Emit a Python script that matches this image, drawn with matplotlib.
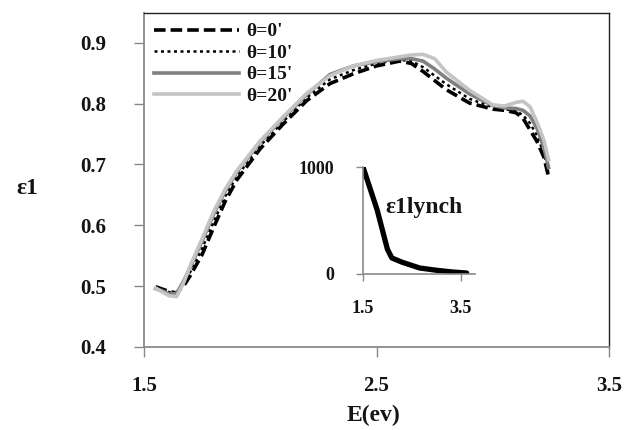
import matplotlib
matplotlib.use("Agg")
import matplotlib.pyplot as plt

# ---- data ----
E = [1.55, 1.58, 1.61, 1.64, 1.67, 1.70, 1.75, 1.80, 1.85, 1.90, 2.00, 2.10, 2.20, 2.30,
     2.40, 2.50, 2.60, 2.65, 2.70, 2.75, 2.80, 2.90, 3.00, 3.05, 3.10, 3.13, 3.16, 3.19,
     3.22, 3.24]
eps_0 = [0.499, 0.495, 0.491, 0.489, 0.500, 0.518, 0.552, 0.597, 0.640, 0.675, 0.726, 0.767,
         0.805, 0.833, 0.849, 0.862, 0.870, 0.866, 0.853, 0.838, 0.823, 0.801, 0.791, 0.789,
         0.785, 0.776, 0.757, 0.738, 0.712, 0.680]
eps_10 = [0.498, 0.494, 0.490, 0.489, 0.503, 0.524, 0.562, 0.606, 0.648, 0.681, 0.731, 0.771,
          0.810, 0.840, 0.855, 0.866, 0.872, 0.870, 0.860, 0.846, 0.832, 0.808, 0.794, 0.791,
          0.788, 0.781, 0.768, 0.748, 0.718, 0.685]
eps_15 = [0.496, 0.492, 0.487, 0.488, 0.508, 0.532, 0.574, 0.619, 0.657, 0.688, 0.737, 0.777,
          0.815, 0.848, 0.862, 0.869, 0.874, 0.874, 0.870, 0.857, 0.842, 0.816, 0.797, 0.793,
          0.792, 0.789, 0.780, 0.760, 0.728, 0.695]
eps_20 = [0.497, 0.490, 0.484, 0.483, 0.505, 0.535, 0.578, 0.623, 0.660, 0.690, 0.739, 0.779,
          0.817, 0.846, 0.862, 0.871, 0.877, 0.880, 0.881, 0.874, 0.852, 0.822, 0.798, 0.796,
          0.802, 0.804, 0.795, 0.770, 0.740, 0.708]

E_lynch = [1.5, 1.79, 2.00, 2.09, 2.30, 2.66, 3.00, 3.30, 3.62]
eps_lynch = [1000, 598, 230, 150, 110, 56, 35, 20, 9]

labels = ["θ=0'", "θ=10'", "θ=15'", "θ=20'"]
xticks = [1.5, 2.5, 3.5]
yticks = [0.4, 0.5, 0.6, 0.7, 0.8, 0.9]

W, H = 631, 430
fig = plt.figure(figsize=(W / 100, H / 100), dpi=100)
serif = ["Liberation Serif", "DejaVu Serif"]
tc = "#141414"

ax = fig.add_axes([144 / W, 1 - 347 / H, (609 - 144) / W, (347 - 13) / H])
ax.plot(E, eps_0, color="black", lw=2.6, ls=(0, (3.2, 1.4)), label=labels[0])
ax.plot(E, eps_10, color="black", lw=1.8, ls=(0, (1.2, 1.4)), label=labels[1])
ax.plot(E, eps_15, color="#808080", lw=2.6, ls="-", label=labels[2])
ax.plot(E, eps_20, color="#c4c4c4", lw=2.6, ls="-", label=labels[3])
ax.set_xlim(1.5, 3.5)
ax.set_ylim(0.4, 0.949)
ax.set_xticks(xticks)
ax.set_yticks(yticks)
ax.set_xticklabels([f"{v:.1f}" for v in xticks], fontfamily=serif, fontweight="bold",
                   fontsize=15, color=tc)
ax.set_yticklabels([f"{v:.1f}" for v in yticks], fontfamily=serif, fontweight="bold",
                   fontsize=15, color=tc)
ax.tick_params(axis="both", direction="out", length=7, width=1, color="#888888")
ax.tick_params(axis="x", pad=14)
ax.tick_params(axis="y", pad=20)
for s in ["left", "bottom"]:
    ax.spines[s].set_color("#8a8a8a")
    ax.spines[s].set_linewidth(1.3)
for s in ["top", "right"]:
    ax.spines[s].set_color("#222222")
    ax.spines[s].set_linewidth(1.0)

leg = ax.legend(loc="upper left", frameon=False, handlelength=4.4, handletextpad=0.35,
                labelspacing=0.2, borderaxespad=0.1,
                prop={"family": serif, "weight": "bold", "size": 14})
for t in leg.get_texts():
    t.set_color(tc)

fig.text(27 / W, 1 - 188 / H, "ε1", ha="center", va="center", fontfamily=serif,
         fontweight="bold", fontsize=17, color=tc)
fig.text(373 / W, 1 - 415 / H, "E(ev)", ha="center", va="center", fontfamily=serif,
         fontweight="bold", fontsize=17, color=tc)

# ---- inset ----
ins = fig.add_axes([363 / W, 1 - 274 / H, (475 - 363) / W, (274 - 167) / H])
ins.patch.set_alpha(0)
ins.plot(E_lynch, eps_lynch, color="black", lw=3.8, solid_capstyle="round")
ins.set_xlim(1.5, 3.79)
ins.set_ylim(0, 1000)
ins.set_xticks([1.5, 3.5])
ins.set_yticks([0, 1000])
ins.set_xticklabels(["1.5", "3.5"], fontfamily=serif, fontweight="bold", fontsize=13, color=tc)
ins.set_yticklabels(["0", "1000"], fontfamily=serif, fontweight="bold", fontsize=13, color=tc)
ins.tick_params(axis="both", direction="out", length=5, width=1, color="#888888")
ins.tick_params(axis="x", pad=14)
ins.tick_params(axis="y", pad=16)
for s in ["top", "right"]:
    ins.spines[s].set_visible(False)
for s in ["left", "bottom"]:
    ins.spines[s].set_color("#8a8a8a")
    ins.spines[s].set_linewidth(1.2)
fig.text(385 / W, 1 - 208 / H, "ε1lynch", ha="left", va="center", fontfamily=serif,
         fontweight="bold", fontsize=17, color=tc)

fig.savefig("out.png", dpi=100, facecolor="white")
